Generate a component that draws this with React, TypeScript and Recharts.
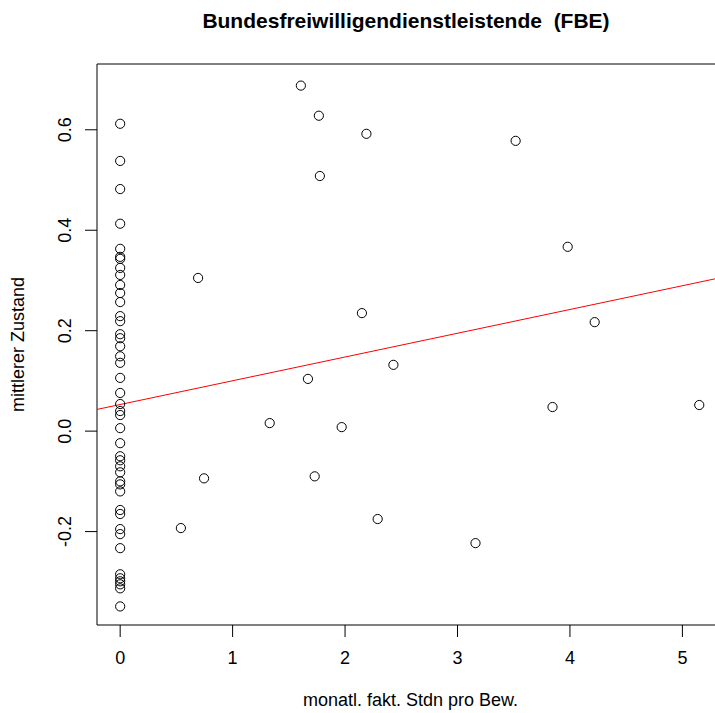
import { ReferenceArea, ReferenceLine, Scatter, ScatterChart, XAxis, YAxis } from "recharts";

// monatl. fakt. Stdn pro Bew. (x) vs. mittlerer Zustand (y)
const zeroY = [
  0.612, 0.538, 0.482, 0.413, 0.363, 0.347, 0.343, 0.325, 0.311, 0.291, 0.275, 0.257,
  0.229, 0.219, 0.193, 0.185, 0.169, 0.149, 0.136, 0.106, 0.076, 0.054, 0.04, 0.032,
  0.006, -0.024, -0.05, -0.058, -0.07, -0.082, -0.1, -0.106, -0.12, -0.157, -0.165,
  -0.195, -0.205, -0.233, -0.285, -0.293, -0.299, -0.305, -0.313, -0.349,
];

const otherX = [
  1.607, 1.767, 2.19, 1.776, 3.517, 3.98, 0.693, 2.15, 4.22, 2.43, 1.67, 3.845, 5.15,
  1.33, 1.97, 0.746, 1.73, 0.54, 2.29, 3.16,
];
const otherY = [
  0.688, 0.628, 0.592, 0.508, 0.578, 0.367, 0.305, 0.235, 0.217, 0.132, 0.104, 0.048,
  0.052, 0.016, 0.008, -0.094, -0.09, -0.193, -0.175, -0.223,
];

const xTicks = [0, 1, 2, 3, 4, 5];
const yTicks = [-0.2, 0, 0.2, 0.4, 0.6];

// lm fit (abline)
const intercept = 0.053;
const slope = 0.0473;

const xDomain: [number, number] = [-0.206, 5.37];
const yDomain: [number, number] = [-0.386, 0.731];

const points = [
  ...zeroY.map((y) => ({ x: 0, y })),
  ...otherX.map((x, i) => ({ x, y: otherY[i] })),
];

const font = "'Liberation Sans', Arial, sans-serif";

const Ring = (props: any) => (
  <circle cx={props.cx} cy={props.cy} r={4.6} fill="none" stroke="#000" strokeWidth={1} />
);

const YTick = (props: any) => {
  const { x, y, payload } = props;
  const bx = x - 12;
  return (
    <text
      x={bx}
      y={y}
      transform={`rotate(-90 ${bx} ${y})`}
      textAnchor="middle"
      fontSize={18}
      fontFamily={font}
      fill="#000"
    >
      {payload.value.toFixed(1)}
    </text>
  );
};

const XTick = (props: any) => {
  const { x, y, payload } = props;
  return (
    <text x={x} y={y + 25} textAnchor="middle" fontSize={18} fontFamily={font} fill="#000">
      {payload.value}
    </text>
  );
};

export default function App() {
  return (
    <div
      style={{
        position: "absolute",
        left: 0,
        top: 0,
        width: 715,
        height: 713,
        overflow: "hidden",
        background: "#fff",
      }}
    >
      <ScatterChart width={730} height={713} margin={{ top: 64, right: 6, bottom: 0, left: 0 }}>
        <text
          x={406}
          y={28}
          textAnchor="middle"
          fontSize={21}
          fontWeight="bold"
          fontFamily={font}
          fill="#000"
        >
          Bundesfreiwilligendienstleistende{"\u00a0\u00a0"}(FBE)
        </text>
        <XAxis
          type="number"
          dataKey="x"
          domain={xDomain}
          ticks={xTicks}
          allowDataOverflow
          axisLine={false}
          tickLine={{ stroke: "#000" }}
          tickSize={12}
          tick={<XTick />}
          height={88}
          label={{
            value: "monatl. fakt. Stdn pro Bew.",
            position: "insideBottom",
            offset: 7,
            fontSize: 18,
            fontFamily: font,
            fill: "#000",
          }}
        />
        <YAxis
          type="number"
          dataKey="y"
          domain={yDomain}
          ticks={yTicks}
          allowDataOverflow
          axisLine={false}
          tickLine={{ stroke: "#000" }}
          tickSize={12}
          tick={<YTick />}
          width={97}
          label={{
            value: "mittlerer Zustand",
            angle: -90,
            position: "insideLeft",
            offset: 18,
            fontSize: 18,
            fontFamily: font,
            fill: "#000",
            style: { textAnchor: "middle" },
          }}
        />
        <ReferenceArea
          x1={xDomain[0]}
          x2={xDomain[1]}
          y1={yDomain[0]}
          y2={yDomain[1]}
          fill="none"
          stroke="#000"
          strokeWidth={1}
        />
        <ReferenceLine
          segment={[
            { x: xDomain[0], y: intercept + slope * xDomain[0] },
            { x: xDomain[1], y: intercept + slope * xDomain[1] },
          ]}
          stroke="#ff0000"
          strokeWidth={1}
        />
        <Scatter data={points} shape={<Ring />} isAnimationActive={false} />
      </ScatterChart>
    </div>
  );
}
